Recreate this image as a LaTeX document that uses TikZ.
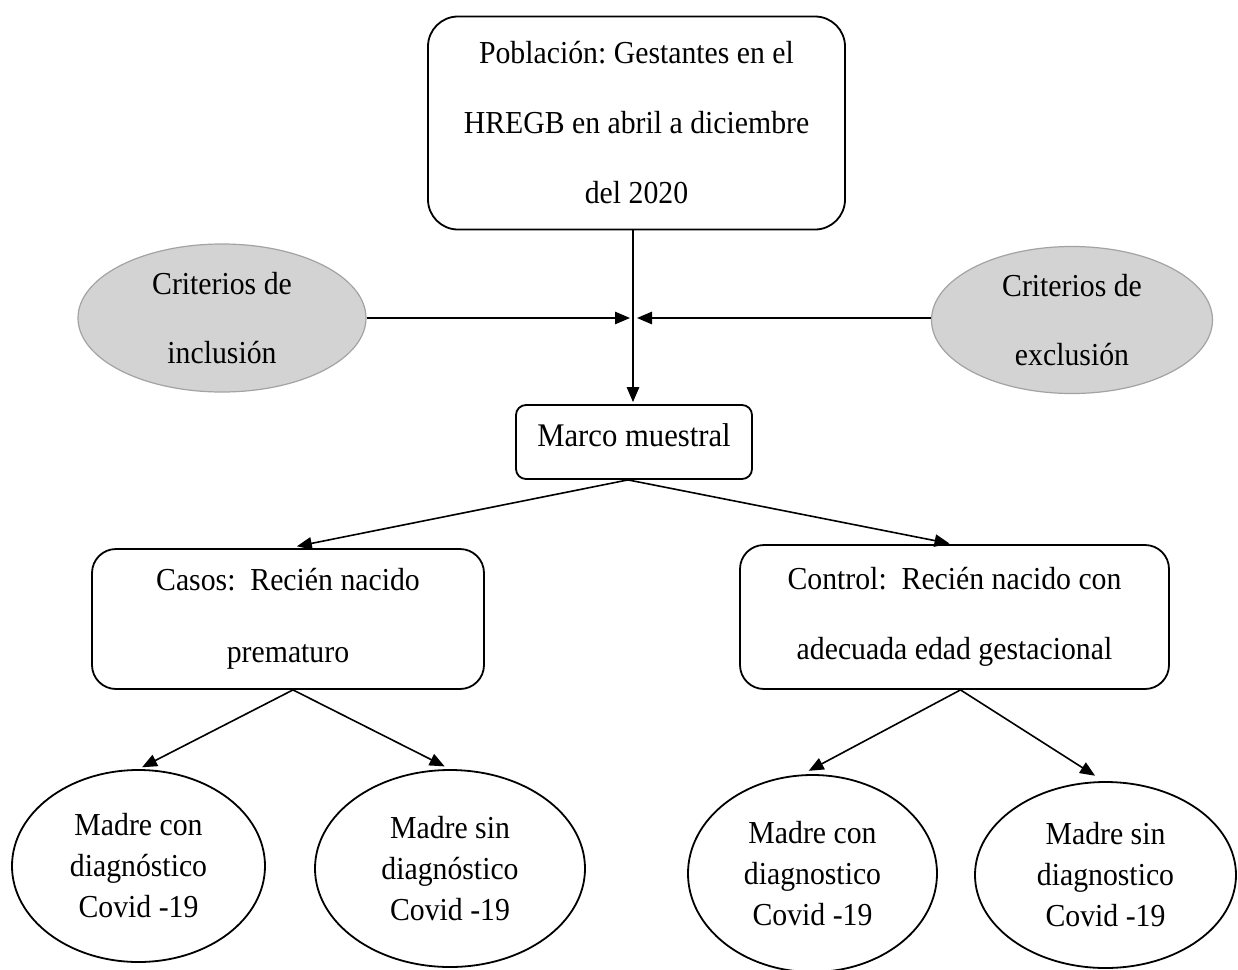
\documentclass[tikz,border=0pt]{standalone}
\usepackage{fontspec}
\setmainfont[FakeStretch=0.93]{Liberation Serif}
\usetikzlibrary{arrows.meta,shapes.geometric}
\definecolor{critfill}{HTML}{D3D3D3}
\definecolor{critline}{HTML}{A3A3A3}
\frenchspacing
\begin{document}
\begin{tikzpicture}[x=0.5pt,y=-0.5pt,
  box/.style={draw,line width=0.9pt,rounded corners=#1,align=center,inner sep=0pt},
  crit/.style={ellipse,draw=critline,fill=critfill,line width=0.6pt,align=center,inner sep=0pt,
    font=\fontsize{16}{34.5}\selectfont},
  madre/.style={ellipse,draw,line width=0.9pt,align=center,inner sep=0pt,
    font=\fontsize{16}{20.5}\selectfont},
  arr/.style={line width=0.8pt,-{Triangle[length=7.5pt,width=6.2pt]}}
]
\useasboundingbox (0,0) rectangle (1238,970);
\fill[white] (0,0) rectangle (1238,970);

\node[box=15pt,minimum width=208.5pt,minimum height=106.5pt,
  font=\fontsize{16}{35}\selectfont] (pob) at (636.5,123)
  {Población: Gestantes en el\\HREGB en abril a diciembre\\del 2020};

\node[crit,minimum width=144pt,minimum height=74pt] (inc) at (222,318)
  {Criterios de\\inclusión};
\node[crit,minimum width=140.5pt,minimum height=73.5pt] (exc) at (1072,320)
  {Criterios de\\exclusión};

\coordinate (jn) at (633,318);

\node[box=5pt,minimum width=118pt,minimum height=37pt,
  font=\fontsize{16.5}{20}\selectfont,text depth=7pt] (marco) at (634,442)
  {Marco muestral};

\node[box=12pt,minimum width=196pt,minimum height=70pt,
  font=\fontsize{16}{36}\selectfont] (casos) at (288,619)
  {Casos: \ Recién nacido\\prematuro};

\node[box=12pt,minimum width=214.5pt,minimum height=72pt,
  font=\fontsize{16}{35}\selectfont] (control) at (954.5,617)
  {Control: \ Recién nacido con\\adecuada edad gestacional};

\node[madre,minimum width=126.5pt,minimum height=96pt] (e1) at (138.5,866)
  {Madre con\\diagnóstico\\Covid -19};
\node[madre,minimum width=135pt,minimum height=98.5pt] (e2) at (450,868.5)
  {Madre sin\\diagnóstico\\Covid -19};
\node[madre,minimum width=124.5pt,minimum height=98.5pt] (e3) at (812.5,873.5)
  {Madre con\\diagnostico\\Covid -19};
\node[madre,minimum width=130.5pt,minimum height=93pt] (e4) at (1105.5,875)
  {Madre sin\\diagnostico\\Covid -19};

\draw[arr,shorten >=1pt] (pob.south -| jn) -- (marco.north -| jn);
\draw[arr] (inc.east |- jn) -- ([xshift=-1.5pt]jn);
\draw[arr] (exc.west |- jn) -- ([xshift=2pt]jn);

\draw[arr,shorten >=4.5pt] ([xshift=-3pt]marco.south) -- (casos.north);
\draw[arr,shorten >=1.5pt] ([xshift=-3pt]marco.south) -- ([xshift=-1pt]control.north);

\draw[arr,shorten >=2pt] ([xshift=2.5pt]casos.south) -- (e1.north);
\draw[arr,shorten >=3pt] ([xshift=2.5pt]casos.south) -- (e2.north);
\draw[arr,shorten >=3.5pt] ([xshift=3pt]control.south) -- ([xshift=-5pt]e3.north);
\draw[arr,shorten >=5pt] ([xshift=3pt]control.south) -- ([xshift=-1pt]e4.north);
\end{tikzpicture}
\end{document}
